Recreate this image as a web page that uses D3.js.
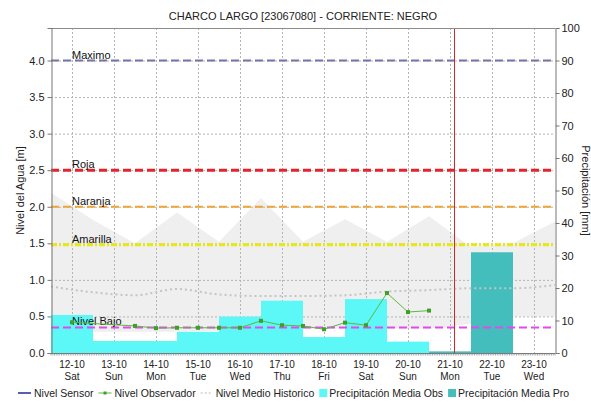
<!DOCTYPE html>
<html>
  <head>
    <meta charset="utf-8">
    <title>Charco Largo - Nivel del Agua</title>
    <script src="https://d3js.org/d3.v7.min.js"></script>
    <style>
      body { margin: 0; background: #fff; }
      svg text { font-family: Arial, "Liberation Sans", sans-serif; fill: #222; }
    </style>
  </head>
  <body>
    <div id="chart"></div>
    <script>
      // data
      const days = ["12-10", "13-10", "14-10", "15-10", "16-10", "17-10", "18-10", "19-10", "20-10", "21-10", "22-10", "23-10"];
      const weekdays = ["Sat", "Sun", "Mon", "Tue", "Wed", "Thu", "Fri", "Sat", "Sun", "Mon", "Tue", "Wed"];
      const precipObs = [11.7, 3.7, 3.7, 6.5, 11.2, 16.1, 4.9, 16.6, 3.5, null, null, null];
      const precipPro = [null, null, null, null, null, null, null, null, null, 0.5, 31, 0];
      // observer readings: time in days since 12-10 00:00, level in m
      const obsTimes = [0.5, 2, 2.5, 3, 3.5, 4, 4.5, 5, 5.5, 6, 6.5, 7, 7.5, 8, 8.5, 9];
      const obsLevels = [0.42, 0.37, 0.34, 0.345, 0.345, 0.345, 0.345, 0.44, 0.38, 0.37, 0.325, 0.415, 0.38, 0.82, 0.56, 0.58];
      // historic values at each day boundary (0..12)
      const histMean = [0.91, 0.83, 0.79, 0.875, 0.80, 0.78, 0.78, 0.79, 0.84, 0.86, 0.885, 0.885, 0.93];
      const histMax = [2.19, 1.82, 1.5, 1.92, 1.52, 2.12, 1.52, 1.83, 1.52, 1.87, 1.45, 1.5, 1.8];
      const histMin = [0.3, 0.29, 0.29, 0.29, 0.3, 0.32, 0.33, 0.33, 0.33, 0.33, 0.4, 0.5, 0.5];
      const thresholdNames = ["Maximo", "Roja", "Naranja", "Amarilla", "Nivel Bajo"];
      const thresholdValues = [4.0, 2.5, 2.0, 1.48, 0.35];
      const nowTime = 9.6;
      const levelTicks = [0, 0.5, 1, 1.5, 2, 2.5, 3, 3.5, 4];
      const rainTicks = [0, 10, 20, 30, 40, 50, 60, 70, 80, 90, 100];
      const legendNames = ["Nivel Sensor", "Nivel Observador", "Nivel Medio Historico", "Precipitación Media Obs", "Precipitación Media Pro"];

      // layout
      const width = 591, height = 402;
      const margin = { top: 28, right: 36, bottom: 49, left: 51 };
      const svg = d3.select("#chart").append("svg")
        .attr("width", width)
        .attr("height", height);

      const x = d3.scaleLinear().domain([0, days.length]).range([margin.left, width - margin.right]);
      const xBand = d3.scaleBand().domain(days).range([margin.left, width - margin.right]);
      const yL = d3.scaleLinear().domain([0, 4.0 / 0.9]).range([height - margin.bottom, margin.top]);
      const yR = d3.scaleLinear().domain([0, 100]).range([height - margin.bottom, margin.top]);

      // title
      svg.append("text")
        .attr("x", (margin.left + width - margin.right) / 2)
        .attr("y", 20)
        .attr("text-anchor", "middle")
        .style("font-size", "11px")
        .text("CHARCO LARGO [23067080] - CORRIENTE: NEGRO");

      // historic band
      const bandData = histMax.map(function(d, i) { return { t: i, hi: d, lo: histMin[i] }; });
      svg.append("path")
        .datum(bandData)
        .attr("fill", "#efefef")
        .attr("d", d3.area()
          .x(function(d) { return x(d.t); })
          .y0(function(d) { return yL(d.lo); })
          .y1(function(d) { return yL(d.hi); }));

      // grid
      svg.append("g")
        .selectAll("line")
        .data(levelTicks.filter(function(d) { return d > 0; }))
        .enter().append("line")
          .attr("x1", margin.left)
          .attr("x2", width - margin.right)
          .attr("y1", function(d) { return yL(d) + 0.5; })
          .attr("y2", function(d) { return yL(d) + 0.5; })
          .attr("stroke", "#b4b4b4")
          .attr("stroke-dasharray", "2,2");
      svg.append("g")
        .selectAll("line")
        .data(days)
        .enter().append("line")
          .attr("x1", function(d) { return Math.round(xBand(d) + xBand.bandwidth() / 2) + 0.5; })
          .attr("x2", function(d) { return Math.round(xBand(d) + xBand.bandwidth() / 2) + 0.5; })
          .attr("y1", margin.top)
          .attr("y2", height - margin.bottom)
          .attr("stroke", "#b4b4b4")
          .attr("stroke-dasharray", "2,2");

      // precipitation bars
      svg.append("g")
        .selectAll("rect")
        .data(days.filter(function(d, i) { return precipObs[i] != null; }))
        .enter().append("rect")
          .attr("x", function(d) { return xBand(d); })
          .attr("width", xBand.bandwidth())
          .attr("y", function(d) { return yR(precipObs[days.indexOf(d)]); })
          .attr("height", function(d) { return yR(0) - yR(precipObs[days.indexOf(d)]); })
          .attr("fill", "#5cf7f7");
      svg.append("g")
        .selectAll("rect")
        .data(days.filter(function(d, i) { return precipPro[i] != null; }))
        .enter().append("rect")
          .attr("x", function(d) { return xBand(d); })
          .attr("width", xBand.bandwidth())
          .attr("y", function(d) { return yR(precipPro[days.indexOf(d)]); })
          .attr("height", function(d) { return yR(0) - yR(precipPro[days.indexOf(d)]); })
          .attr("fill", "#44bdbd");

      // historic mean
      svg.append("path")
        .datum(histMean)
        .attr("fill", "none")
        .attr("stroke", "#c4c4c4")
        .attr("stroke-width", 2)
        .attr("stroke-dasharray", "2,3")
        .attr("d", d3.line()
          .x(function(d, i) { return x(i); })
          .y(function(d) { return yL(d); })
          .curve(d3.curveMonotoneX));

      // thresholds
      const thresholdColors = ["#7474a6", "#e4242c", "#f0a534", "#e8e818", "#e448ee"];
      const thresholdDash = ["8,4", "8,4", "8,4", "6,2,2,2", "8,4"];
      const thresholdWidth = [2, 3, 2, 3, 2];
      const thr = svg.append("g")
        .selectAll("g")
        .data(thresholdValues)
        .enter().append("g");
      thr.append("line")
        .attr("x1", margin.left)
        .attr("x2", width - margin.right)
        .attr("y1", function(d) { return yL(d); })
        .attr("y2", function(d) { return yL(d); })
        .attr("stroke", function(d, i) { return thresholdColors[i]; })
        .attr("stroke-width", function(d, i) { return thresholdWidth[i]; })
        .attr("stroke-dasharray", function(d, i) { return thresholdDash[i]; });

      // now line
      svg.append("line")
        .attr("x1", Math.round(x(nowTime)) + 0.5)
        .attr("x2", Math.round(x(nowTime)) + 0.5)
        .attr("y1", margin.top)
        .attr("y2", height - margin.bottom)
        .attr("stroke", "#cc2a2a")
        .attr("stroke-width", 1);

      // observer level
      const obs = obsTimes.map(function(t, i) { return { t: t, v: obsLevels[i] }; });
      svg.append("path")
        .datum(obs)
        .attr("fill", "none")
        .attr("stroke", "#5cb840")
        .attr("stroke-width", 1)
        .attr("d", d3.line()
          .x(function(d) { return x(d.t); })
          .y(function(d) { return yL(d.v); }));
      svg.append("g")
        .selectAll("rect")
        .data(obs)
        .enter().append("rect")
          .attr("x", function(d) { return x(d.t) - 2; })
          .attr("y", function(d) { return yL(d.v) - 2; })
          .attr("width", 4)
          .attr("height", 4)
          .attr("fill", "#3f9f2a");

      // threshold labels
      thr.append("text")
        .attr("x", x(0.5))
        .attr("y", function(d) { return yL(d) - 2; })
        .style("font-size", "11px")
        .style("fill", "#111")
        .text(function(d, i) { return thresholdNames[i]; });

      // frame
      svg.append("line")
        .attr("x1", margin.left).attr("x2", width - margin.right)
        .attr("y1", margin.top + 0.5).attr("y2", margin.top + 0.5)
        .attr("stroke", "#8c8c8c");

      // axes
      const yAxisL = svg.append("g")
        .attr("transform", "translate(" + (margin.left + 0.5) + ",0)")
        .call(d3.axisLeft(yL).tickValues(levelTicks).tickFormat(d3.format(".1f")).tickSize(4).tickPadding(3));
      const yAxisR = svg.append("g")
        .attr("transform", "translate(" + (width - margin.right + 0.5) + ",0)")
        .call(d3.axisRight(yR).tickValues(rainTicks).tickSize(4).tickPadding(2));
      [yAxisL, yAxisR].forEach(function(a) {
        a.select(".domain").attr("stroke", "#777");
        a.selectAll(".tick line").attr("stroke", "#777");
        a.selectAll("text").style("font-size", "11px").style("font-family", "Arial, 'Liberation Sans', sans-serif").attr("fill", "#222");
      });

      // bottom axis with hourly ticks
      const xAxis = svg.append("g")
        .attr("transform", "translate(0," + (height - margin.bottom + 0.5) + ")");
      xAxis.append("line")
        .attr("x1", margin.left).attr("x2", width - margin.right)
        .attr("stroke", "#777");
      xAxis.selectAll(".hour")
        .data(d3.range(0, days.length * 24 + 1))
        .enter().append("line")
          .attr("class", "hour")
          .attr("x1", function(d) { return x(d / 24); })
          .attr("x2", function(d) { return x(d / 24); })
          .attr("y1", 0)
          .attr("y2", 2)
          .attr("stroke", "#888")
          .attr("stroke-width", 0.7);
      const dayLabels = xAxis.selectAll(".day")
        .data(days)
        .enter().append("g")
          .attr("class", "day")
          .attr("transform", function(d) { return "translate(" + (xBand(d) + xBand.bandwidth() / 2) + ",0)"; });
      dayLabels.append("text")
        .attr("y", 14)
        .attr("text-anchor", "middle")
        .style("font-size", "10px")
        .text(function(d) { return d; });
      dayLabels.append("text")
        .attr("y", 26)
        .attr("text-anchor", "middle")
        .style("font-size", "10px")
        .text(function(d, i) { return weekdays[i]; });

      // axis titles
      svg.append("text")
        .attr("transform", "translate(24," + ((margin.top + height - margin.bottom) / 2) + ") rotate(-90)")
        .attr("text-anchor", "middle")
        .style("font-size", "11px")
        .text("Nivel del Agua [m]");
      svg.append("text")
        .attr("transform", "translate(582," + ((margin.top + height - margin.bottom) / 2) + ") rotate(90)")
        .attr("text-anchor", "middle")
        .style("font-size", "11px")
        .text("Precipitación [mm]");

      // legend, laid out left to right from measured text widths
      const legend = svg.append("g").attr("transform", "translate(0,393)");
      let lx = 18;
      legendNames.forEach(function(name, i) {
        if (i === 0) {
          legend.append("line").attr("x1", lx).attr("x2", lx + 13).attr("stroke", "#1f2a9c").attr("stroke-width", 1.5);
          lx += 16;
        } else if (i === 1) {
          legend.append("line").attr("x1", lx).attr("x2", lx + 13).attr("stroke", "#5cb840");
          legend.append("rect").attr("x", lx + 5).attr("y", -1.5).attr("width", 3).attr("height", 3).attr("fill", "#3f9f2a");
          lx += 16;
        } else if (i === 2) {
          legend.append("line").attr("x1", lx).attr("x2", lx + 12).attr("stroke", "#bbb").attr("stroke-dasharray", "2,2");
          lx += 15;
        } else {
          legend.append("rect").attr("x", lx).attr("y", -4).attr("width", 8).attr("height", 8)
            .attr("fill", i === 3 ? "#5cf7f7" : "#44bdbd");
          lx += 10;
        }
        const t = legend.append("text").attr("x", lx).attr("y", 4).style("font-size", "10.5px").text(name);
        lx += t.node().getComputedTextLength() + 5;
      });
    </script>
  </body>
</html>
